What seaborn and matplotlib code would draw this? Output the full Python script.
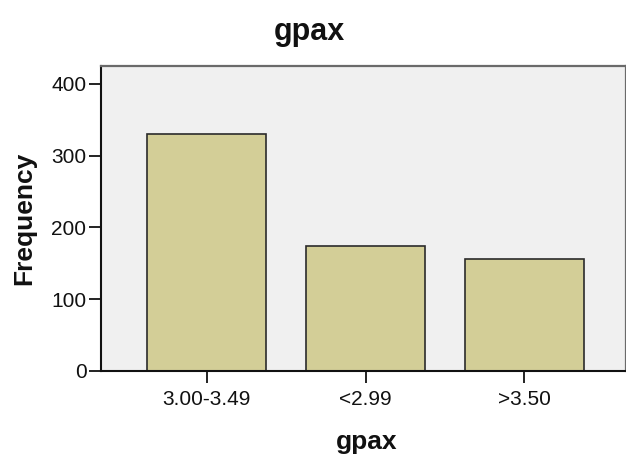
import matplotlib
matplotlib.use("Agg")
import matplotlib.pyplot as plt
import seaborn as sns
import pandas as pd

categories = ["3.00-3.49", "<2.99", ">3.50"]
frequency = [330, 174, 156]

sns.set_style("white")
plt.rcParams['font.family'] = ['Liberation Sans', 'DejaVu Sans']

df = pd.DataFrame({"gpax": categories, "Frequency": frequency})

W, H = 626, 458
fig = plt.figure(figsize=(W/100, H/100), dpi=100)
ax = fig.add_axes([101/W, 1-371/H, 1-101/W, (371-66)/H])
ax.set_facecolor("#F0F0F0")
sns.barplot(data=df, x="gpax", y="Frequency", ax=ax, color="#D3CE97",
            saturation=1, width=0.75, edgecolor="#2b2b2b", linewidth=1.2)
ax.set_xlim(-0.667, 2.64)
ax.set_ylim(0, 425)
ax.set_yticks([0, 100, 200, 300, 400])
for s in ["left", "bottom"]:
    ax.spines[s].set_color("#111111")
    ax.spines[s].set_linewidth(1.5)
for s in ["top", "right"]:
    ax.spines[s].set_color("#6a6a6a")
    ax.spines[s].set_linewidth(1.6)
ax.tick_params(axis="both", direction="out", length=8.5, width=1.4, color="#222222",
               labelsize=15, pad=2, left=True, bottom=True, labelcolor="#111111")
ax.tick_params(axis="x", pad=5)
ax.set_xlabel("gpax", fontsize=19, fontweight="bold", color="#111111")
ax.set_ylabel("Frequency", fontsize=19, fontweight="bold", color="#111111")
ax.xaxis.label.set_va("center")
ax.xaxis.set_label_coords((367-101)/(W-101), (371-442)/(371-66))
ax.yaxis.label.set_va("center")
ax.yaxis.label.set_ha("center")
ax.yaxis.set_label_coords((24-101)/(W-101), (371-218)/(371-66))
fig.text(309/W, 1-32/H, "gpax", ha="center", va="center", fontsize=22,
         fontweight="bold", color="#111111")
fig.savefig("out.png", dpi=100)
